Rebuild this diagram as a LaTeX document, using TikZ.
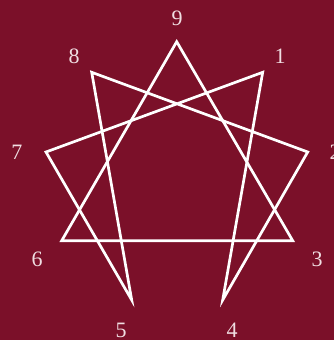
\documentclass[tikz,border=0pt]{standalone}
\usepackage{fontspec}
\setmainfont{Liberation Serif}
\definecolor{bg}{RGB}{123,16,41}
\definecolor{lab}{RGB}{240,222,226}
\begin{document}
\begin{tikzpicture}[x=1pt,y=-1pt,
  edge/.style={draw=white,line width=2.7pt,line join=miter},
  num/.style={text=lab,font=\fontsize{22}{22}\selectfont,inner sep=0pt}]
\fill[bg] (0,0) rectangle (334,340);
\useasboundingbox (0,0) rectangle (334,340);
\coordinate (p9) at (176.7,41.7);
\coordinate (p1) at (262.7,72.3);
\coordinate (p2) at (307.7,152);
\coordinate (p3) at (292.7,240.7);
\coordinate (p4) at (222.7,300);
\coordinate (p5) at (131.7,300);
\coordinate (p6) at (61.7,240.7);
\coordinate (p7) at (46,152);
\coordinate (p8) at (91.7,72.3);
\draw[edge] (p9) -- (p3) -- (p6) -- cycle;
\draw[edge] (p1) -- (p4) -- (p2) -- (p8) -- (p5) -- (p7) -- cycle;
\node[num] (l9) at (177,18) {9};
\node[num] (l1) at (280,56) {1};
\node[num] (l2) at (335,152) {2};
\node[num] (l3) at (317,259) {3};
\node[num] (l4) at (232,330) {4};
\node[num] (l5) at (121,330) {5};
\node[num] (l6) at (37,259) {6};
\node[num] (l7) at (17,152) {7};
\node[num] (l8) at (74,56) {8};
\end{tikzpicture}
\end{document}
